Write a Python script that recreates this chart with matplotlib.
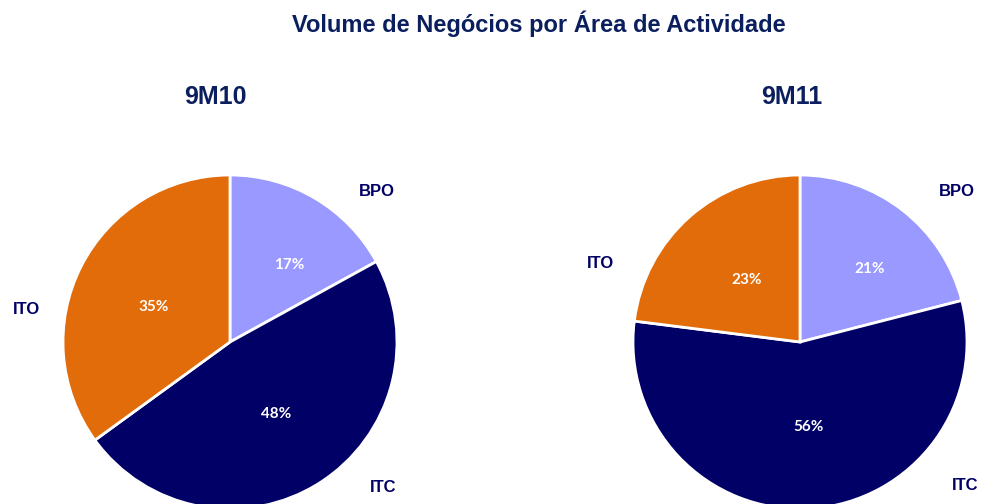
import matplotlib
matplotlib.use("Agg")
import matplotlib.pyplot as plt

categories = ["BPO", "ITC", "ITO"]
values_9m10 = [17, 48, 35]
values_9m11 = [21, 56, 23]
pct_labels_9m10 = ["17%", "48%", "35%"]
pct_labels_9m11 = ["21%", "56%", "23%"]
period_labels = ["9M10", "9M11"]
title = "Volume de Negócios por Área de Actividade"

colors = ["#9999FF", "#000066", "#E36C0A"]
navy = "#0B1F5E"
label_color = "#000066"

W, H = 982, 504
R = 167.0  # pie radius in px
fig = plt.figure(figsize=(W / 100, H / 100), dpi=100)
fig.patch.set_facecolor("white")

def make_ax(x0, x1, cx, cy):
    ax = fig.add_axes([x0 / W, 0, (x1 - x0) / W, 1])
    ax.set_aspect("auto")
    ax.axis("off")
    return ax

def px(cx, cy, x, y):
    return (x - cx) / R, (cy - y) / R

cfg = [
    (0, 491, 230, 342, values_9m10, pct_labels_9m10,
     {"BPO": (377, 191), "ITC": (383, 487), "ITO": (27, 310)},
     [(289, 265), (276, 414), (154, 307)], (215, 97)),
    (491, 982, 800, 342, values_9m11, pct_labels_9m11,
     {"BPO": (957, 191), "ITC": (965, 485), "ITO": (600, 263)},
     [(870, 269), (808, 427), (747, 280)], (792, 97)),
]

for i, (x0, x1, cx, cy, vals, pcts, lab_pos, pct_pos, ttl) in enumerate(cfg):
    ax = make_ax(x0, x1, cx, cy)
    ax.pie(vals, colors=colors, startangle=90, counterclock=False,
           radius=1.0, center=(0, 0), frame=True,
           wedgeprops=dict(edgecolor="white", linewidth=2))
    ax.set_xlim((x0 - cx) / R, (x1 - cx) / R)
    ax.set_ylim((cy - H) / R, cy / R)
    ax.axis("off")
    for cat in categories:
        lx, ly = px(cx, cy, *lab_pos[cat])
        ax.text(lx, ly, cat, ha="center", va="center", fontsize=12,
                fontweight="bold", color=label_color,
                family=["Liberation Sans", "DejaVu Sans"])
    for (tx, ty), t in zip(pct_pos, pcts):
        dx, dy = px(cx, cy, tx, ty)
        ax.text(dx, dy, t, ha="center", va="center", fontsize=11,
                fontweight="bold", color="white",
                family=["Lato", "DejaVu Sans"])
    fig.text(ttl[0] / W, 1 - ttl[1] / H, period_labels[i], ha="center",
             va="center", fontsize=18, fontweight="bold", color=navy,
             family=["Liberation Sans", "DejaVu Sans"])

fig.text(539 / W, 1 - 24 / H, title, ha="center", va="center", fontsize=17,
         fontweight="bold", color=navy,
         family=["Liberation Sans", "DejaVu Sans"])

fig.savefig("out.png", dpi=100, facecolor="white")
